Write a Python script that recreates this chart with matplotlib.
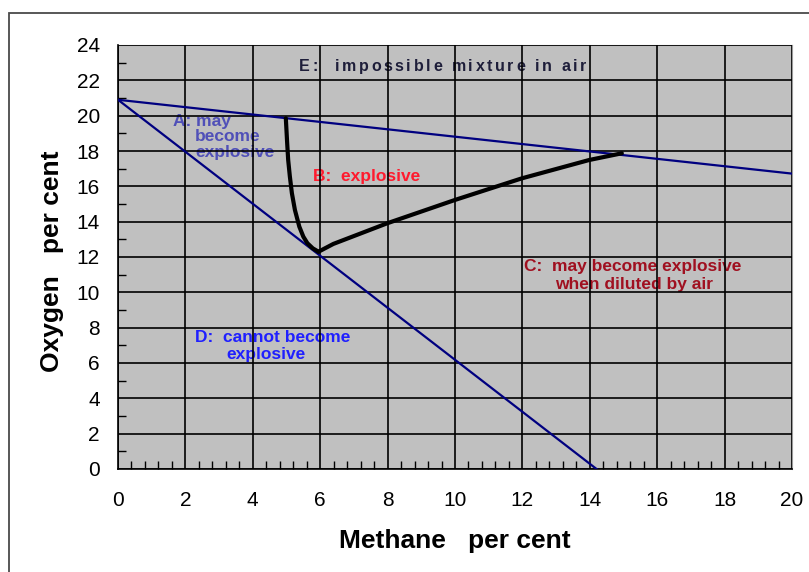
import numpy as np
import matplotlib
matplotlib.use('Agg')
import matplotlib.pyplot as plt
from matplotlib.patches import Rectangle
from matplotlib.font_manager import FontProperties

plt.rcParams['font.family'] = ['Liberation Sans', 'DejaVu Sans']

# air dilution line and the limit of non-explosive mixtures
air_x = [0, 20]
air_y = [20.9, 16.72]
limit_x = [0, 14.2]
limit_y = [20.9, 0]

# boundary of the explosive region
lower_x = [4.98, 5.02, 5.05, 5.10, 5.16, 5.25, 5.38, 5.50, 5.62, 5.78, 5.95]
lower_y = [19.85, 18.44, 17.49, 16.55, 15.61, 14.66, 13.72, 13.15, 12.78, 12.49, 12.3]
upper_x = [5.95, 6.39, 7.99, 10.0, 11.98, 13.98, 14.95]
upper_y = [12.3, 12.74, 13.91, 15.23, 16.45, 17.49, 17.87]

xticks = list(range(0, 21, 2))
yticks = list(range(0, 25, 2))

fig = plt.figure(figsize=(8.09, 5.72), dpi=100)
fig.patches.append(Rectangle((9/809, -0.1), 1.2, 1 - 13/572 + 0.1, transform=fig.transFigure,
                             fill=False, edgecolor='#4a4a4a', lw=1.3))
ax = fig.add_axes([118/809, 1 - 469/572, 674/809, 424/572])
ax.set_facecolor('#c0c0c0')
ax.set_xlim(0, 20)
ax.set_ylim(0, 24)
ax.set_xticks(xticks)
ax.set_yticks(yticks)
ax.set_xticks(np.arange(0.4, 20, 0.4), minor=True)
ax.set_yticks(np.arange(1, 24, 2), minor=True)
ax.tick_params(which='major', length=0, labelsize=15)
ax.tick_params(axis='x', which='major', pad=16)
ax.tick_params(axis='y', which='major', pad=13)
ax.tick_params(which='minor', direction='in', length=6, width=1, color='black')
ax.set_axisbelow(False)
ax.grid(True, which='major', color='black', lw=1.2)
for s in ['top', 'right']:
    ax.spines[s].set_color('#9a9a9a')
for s in ['bottom', 'left']:
    ax.spines[s].set_color('black')
    ax.spines[s].set_linewidth(1.2)

ax.plot(air_x, air_y, color='#000080', lw=1.6, zorder=3)
ax.plot(limit_x, limit_y, color='#000080', lw=1.6, zorder=3)
ax.plot(lower_x, lower_y, color='black', lw=3, zorder=4, solid_capstyle='round')
ax.plot(upper_x, upper_y, color='black', lw=3, zorder=4, solid_capstyle='round')

tk = dict(fontsize=12.5, fontweight='bold', zorder=2, va='baseline')
ax.text(1.62, 19.43, 'A: may', color='#5050b8', **tk)
ax.text(2.285, 18.57, 'become', color='#5050b8', **tk)
ax.text(2.285, 17.68, 'explosive', color='#5050b8', **tk)
ax.text(5.78, 16.32, 'B:  explosive', color='#ff1a2e', **tk)
ax.text(15.28, 11.22, 'C:  may become explosive', color='#a01020', ha='center', **tk)
ax.text(15.31, 10.17, 'when diluted by air', color='#a01020', ha='center', **tk)
ax.text(4.60, 7.21, 'D:  cannot become', color='#2020ff', ha='center', **tk)
ax.text(4.39, 6.21, 'explosive', color='#2020ff', ha='center', **tk)

# E label is letter-spaced in the original
e_text = 'E:  impossible mixture in air'
e_prop = FontProperties(family=['Liberation Sans'], weight='bold', size=11.5)
r = fig.canvas.get_renderer()
def tw(s):
    return r.get_text_width_height_descent(s, e_prop, ismath=False)[0]
gap = (287 - tw(e_text)) / (len(e_text) - 1)
for i, ch in enumerate(e_text):
    if ch == ' ':
        continue
    off = (tw(e_text[:i] + '|') - tw('|') if i else 0) + i * gap
    ax.annotate(ch, (5.38, 22.55), xytext=(off * 72 / fig.dpi, 0), textcoords='offset points',
                fontproperties=e_prop, color='#1e1e3a', va='baseline', ha='left', zorder=2)

ax.set_xlabel('Methane   per cent', fontsize=19, fontweight='bold')
ax.xaxis.set_label_coords(0.5, (469 - 541) / 424)
ax.xaxis.label.set_va('center')
ax.set_ylabel('Oxygen   per cent', fontsize=19, fontweight='bold')
ax.yaxis.set_label_coords((52 - 118) / 674, 0.49)
ax.yaxis.label.set_va('center')

fig.savefig('out.png', dpi=100)
